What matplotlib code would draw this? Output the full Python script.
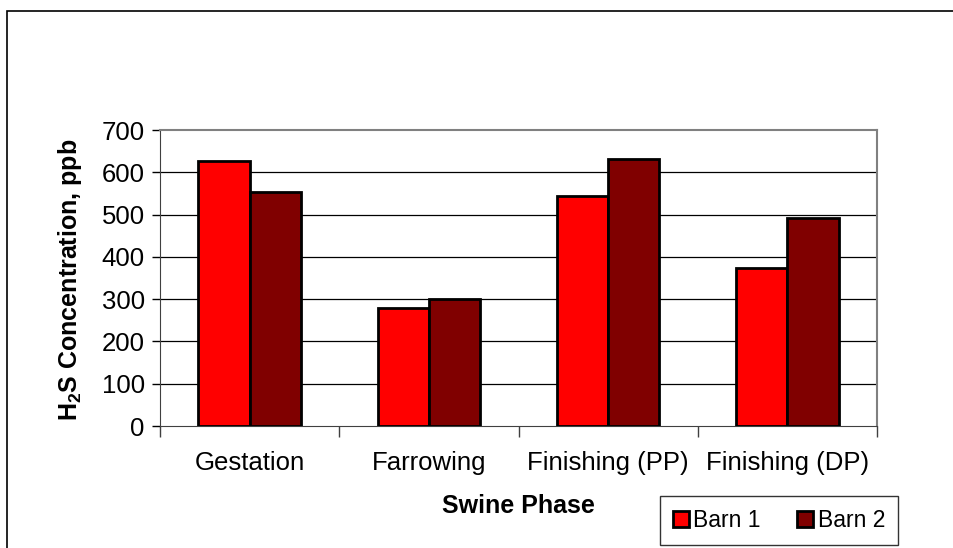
import numpy as np
import matplotlib
matplotlib.use('Agg')
import matplotlib.pyplot as plt
from matplotlib.patches import Rectangle

plt.rcParams['font.family'] = ['Liberation Sans', 'DejaVu Sans']
plt.rcParams['mathtext.fontset'] = 'custom'
plt.rcParams['mathtext.rm'] = 'Liberation Sans:bold'
plt.rcParams['mathtext.bf'] = 'Liberation Sans:bold'
plt.rcParams['mathtext.default'] = 'bf'

# data
phases = ['Gestation', 'Farrowing', 'Finishing (PP)', 'Finishing (DP)']
barn1 = [627, 280, 544, 373]
barn2 = [554, 301, 631, 493]
yticks = [0, 100, 200, 300, 400, 500, 600, 700]

fig = plt.figure(figsize=(9.54, 5.48), dpi=100)
W, H = 954, 548

# outer chart frame (runs off right/bottom edge)
fig.add_artist(Rectangle((7 / W, -0.1), 1.2, (H - 11) / H + 0.1,
                         transform=fig.transFigure, fill=False,
                         edgecolor='black', linewidth=1.2))

ax = fig.add_axes([160 / W, (H - 426) / H, 717 / W, 296 / H])

x = np.arange(len(phases))
bw = 1 / 3.5
ax.bar(x - bw / 2, barn1, width=bw, color='#ff0000', edgecolor='black',
       linewidth=2, label='Barn 1', zorder=3)
ax.bar(x + bw / 2, barn2, width=bw, color='#800000', edgecolor='black',
       linewidth=2, label='Barn 2', zorder=3)

ax.set_xlim(-0.5, len(phases) - 0.5)
ax.set_ylim(0, 700)
ax.set_yticks(yticks)
ax.set_yticklabels([str(t) for t in yticks], fontsize=18.5)
for t in yticks[1:-1]:
    ax.axhline(t, color='black', linewidth=0.9, zorder=1)

# category labels between boundary ticks
ax.set_xticks(np.arange(-0.5, len(phases)), minor=False)
ax.set_xticklabels([])
ax.set_xticks(x, minor=True)
ax.set_xticklabels(phases, minor=True, fontsize=18.5)
ax.tick_params(axis='x', which='minor', length=0, pad=18)
ax.tick_params(axis='x', which='major', length=8, width=1, color='#404040')
ax.tick_params(axis='y', length=6, width=1, pad=5)

ax.spines['top'].set_color('#808080')
ax.spines['right'].set_color('#808080')
ax.spines['top'].set_linewidth(1.5)
ax.spines['right'].set_linewidth(1.5)
ax.spines['left'].set_color('#404040')
ax.spines['bottom'].set_color('#404040')

ax.set_xlabel('Swine Phase', fontsize=18, fontweight='bold', labelpad=14)
fig.text(70 / W, 1 - 280 / H, r'$H_2S$ Concentration, ppb', fontsize=18,
         fontweight='bold', rotation=90, ha='center', va='center')

leg = fig.legend(loc='center', bbox_to_anchor=(779 / W, 1 - 520.5 / H),
                 ncol=2, fontsize=16.5, frameon=True, fancybox=False,
                 edgecolor='black', handlelength=0.7, handleheight=0.7,
                 handletextpad=0.2, columnspacing=1.6, borderpad=0.55)
leg.get_frame().set_linewidth(1)

fig.savefig('out.png', dpi=100)
